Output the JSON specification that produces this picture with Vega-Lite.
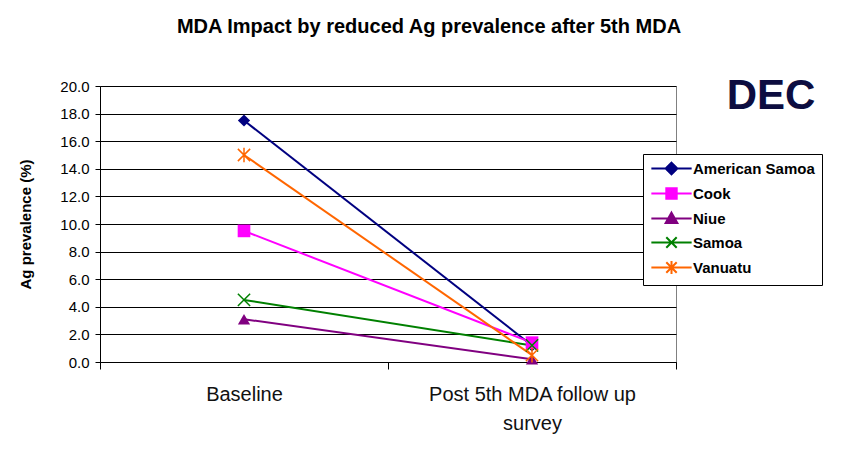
{
  "$schema": "https://vega.github.io/schema/vega-lite/v6.json",
  "width": 576,
  "height": 276,
  "autosize": {"type": "none"},
  "padding": {"left": 100, "top": 86, "right": 167, "bottom": 87},
  "background": "white",
  "config": {
    "font": "Liberation Sans",
    "view": {"stroke": "#808080", "strokeWidth": 1}
  },
  "title": {
    "text": "MDA Impact by reduced Ag prevalence after 5th MDA",
    "fontSize": 20,
    "fontWeight": "bold",
    "color": "#000000",
    "anchor": "middle",
    "dx": 41,
    "offset": 38
  },
  "data": {
    "values": [
      {"period": "Baseline", "country": "American Samoa", "value": 17.5},
      {"period": "Baseline", "country": "Cook", "value": 9.5},
      {"period": "Baseline", "country": "Niue", "value": 3.1},
      {"period": "Baseline", "country": "Samoa", "value": 4.5},
      {"period": "Baseline", "country": "Vanuatu", "value": 15.0},
      {"period": "Post 5th MDA follow up survey", "country": "American Samoa", "value": 1.2},
      {"period": "Post 5th MDA follow up survey", "country": "Cook", "value": 1.4},
      {"period": "Post 5th MDA follow up survey", "country": "Niue", "value": 0.2},
      {"period": "Post 5th MDA follow up survey", "country": "Samoa", "value": 1.2},
      {"period": "Post 5th MDA follow up survey", "country": "Vanuatu", "value": 0.5}
    ]
  },
  "encoding": {
    "x": {
      "field": "period",
      "type": "nominal",
      "sort": null,
      "scale": {"type": "band", "paddingInner": 0, "paddingOuter": 0},
      "axis": {
        "title": null,
        "labelAngle": 0,
        "labelFontSize": 20,
        "labelColor": "#111111",
        "labelBaseline": "top",
        "labelPadding": 15,
        "labelLineHeight": 29,
        "labelLimit": 400,
        "labelExpr": "datum.label == 'Post 5th MDA follow up survey' ? ['Post 5th MDA follow up', 'survey'] : datum.label",
        "tickBand": "extent",
        "tickSize": 7,
        "tickColor": "#000000",
        "domainColor": "#000000",
        "grid": false
      }
    },
    "y": {
      "field": "value",
      "type": "quantitative",
      "scale": {"domain": [0, 20], "nice": false},
      "axis": {
        "title": "Ag prevalence (%)",
        "titleFontSize": 15,
        "titleFontWeight": "bold",
        "titleColor": "#000000",
        "titlePadding": 26,
        "labelFontSize": 15,
        "labelColor": "#000000",
        "labelPadding": 6,
        "format": ".1f",
        "values": [0, 2, 4, 6, 8, 10, 12, 14, 16, 18, 20],
        "tickSize": 5,
        "tickColor": "#000000",
        "domainColor": "#000000",
        "gridColor": "#000000",
        "gridOpacity": 1,
        "gridWidth": 1
      }
    },
    "color": {
      "field": "country",
      "type": "nominal",
      "scale": {
        "domain": ["American Samoa", "Cook", "Niue", "Samoa", "Vanuatu"],
        "range": ["#000080", "#FF00FF", "#800080", "#008000", "#FF6600"]
      },
      "legend": {
        "title": null,
        "orient": "none",
        "legendX": 543,
        "legendY": 68,
        "strokeColor": "#000000",
        "fillColor": "#ffffff",
        "padding": 7,
        "labelFontSize": 15,
        "labelFontWeight": "bold",
        "labelColor": "#000000",
        "symbolSize": 169,
        "symbolOffset": 14,
        "symbolStrokeWidth": 2,
        "symbolOpacity": 1,
        "labelOffset": 14,
        "rowPadding": 5,
        "labelLimit": 300
      }
    }
  },
  "layer": [
    {
      "mark": {"type": "point", "filled": true, "opacity": 0, "size": 169},
      "encoding": {
        "shape": {
          "field": "country",
          "type": "nominal",
          "scale": {
            "domain": ["American Samoa", "Cook", "Niue", "Samoa", "Vanuatu"],
            "range": [
              "M-3.1,0L3.1,0M0,-0.9L0.9,0L0,0.9L-0.9,0Z",
              "M-3.1,0L3.1,0M-0.8,-0.8L0.8,-0.8L0.8,0.8L-0.8,0.8Z",
              "M-3.1,0L3.1,0M0,-0.9L0.9,0.7L-0.9,0.7Z",
              "M-3.1,0L3.1,0M-0.8,-0.8L0.8,0.8M0.8,-0.8L-0.8,0.8",
              "M-3.1,0L3.1,0M-0.8,-0.8L0.8,0.8M0.8,-0.8L-0.8,0.8M0,-1L0,1"
            ]
          },
          "legend": {
            "title": null,
            "orient": "none",
            "legendX": 543,
            "legendY": 68,
            "strokeColor": "#000000",
            "fillColor": "#ffffff",
            "padding": 7,
            "labelFontSize": 15,
            "labelFontWeight": "bold",
            "labelColor": "#000000",
            "symbolSize": 169,
            "symbolOffset": 14,
            "symbolStrokeWidth": 2,
            "symbolOpacity": 1,
            "labelOffset": 14,
            "rowPadding": 5,
            "labelLimit": 300
          }
        },
        "stroke": {
          "field": "country",
          "type": "nominal",
          "scale": {
            "domain": ["American Samoa", "Cook", "Niue", "Samoa", "Vanuatu"],
            "range": ["#000080", "#FF00FF", "#800080", "#008000", "#FF6600"]
          },
          "legend": null
        }
      }
    },
    {"mark": {"type": "line", "strokeWidth": 2}},
    {
      "transform": [{"filter": "datum.country === 'American Samoa'"}],
      "mark": {"type": "point", "shape": "diamond", "filled": true, "opacity": 1, "size": 150}
    },
    {
      "transform": [{"filter": "datum.country === 'Cook'"}],
      "mark": {"type": "point", "shape": "square", "filled": true, "opacity": 1, "size": 160}
    },
    {
      "transform": [{"filter": "datum.country === 'Niue'"}],
      "mark": {"type": "point", "shape": "triangle-up", "filled": true, "opacity": 1, "size": 150}
    },
    {
      "transform": [{"filter": "datum.country === 'Samoa'"}],
      "mark": {"type": "point", "shape": "M-1,-1L1,1M1,-1L-1,1", "filled": false, "opacity": 1, "size": 150, "strokeWidth": 1.5}
    },
    {
      "transform": [{"filter": "datum.country === 'Vanuatu'"}],
      "mark": {"type": "point", "shape": "M-1,-1L1,1M1,-1L-1,1M0,-1.2L0,1.2", "filled": false, "opacity": 1, "size": 150, "strokeWidth": 1.5}
    },
    {
      "transform": [{"filter": "datum.country === 'American Samoa' && datum.period === 'Post 5th MDA follow up survey'"}],
      "mark": {"type": "text", "text": "DEC", "fontSize": 42, "fontWeight": "bold", "align": "center", "baseline": "middle", "dx": 239, "color": "#0d0d40"},
      "encoding": {
        "y": {"datum": 19.25},
        "color": {"value": "#0d0d40"}
      }
    }
  ]
}
